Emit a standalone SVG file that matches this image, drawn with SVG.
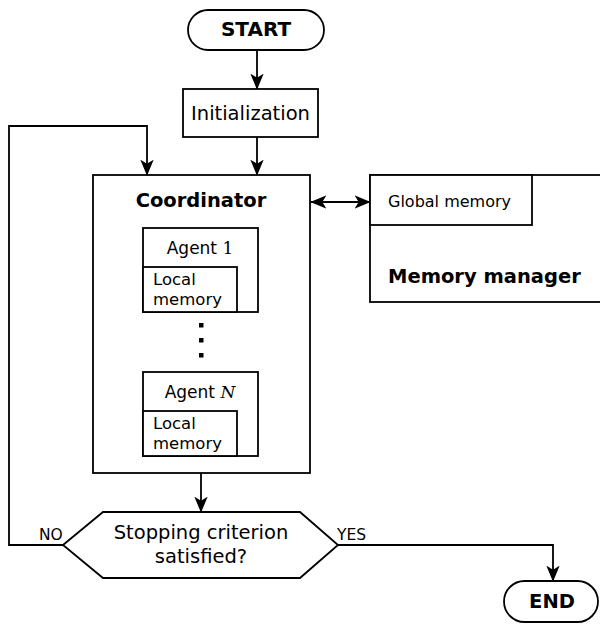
<svg xmlns="http://www.w3.org/2000/svg" width="600" height="625" viewBox="0 0 600 625">
  <style>
    .box { fill: #fff; stroke: #000; stroke-width: 1.8; }
    .line { fill: none; stroke: #000; stroke-width: 1.8; }
    .t { font-family: "DejaVu Sans", "Liberation Sans", sans-serif; fill: #000; }
    .b { font-weight: bold; }
    .m { font-family: "DejaVu Serif", "Liberation Serif", serif; }
  </style>
  <defs>
    <marker id="arr" viewBox="0 0 12 12" refX="11.5" refY="6" markerWidth="16" markerHeight="16" markerUnits="userSpaceOnUse" orient="auto-start-reverse">
      <path d="M0,1 L12,6 L0,11 L3,6 Z" fill="#000"/>
    </marker>
  </defs>

  <g id="connectors">
    <line class="line" x1="257" y1="51" x2="257" y2="89" marker-end="url(#arr)"/>
    <line class="line" x1="257" y1="137" x2="257" y2="175" marker-end="url(#arr)"/>
    <line class="line" x1="311" y1="202" x2="370" y2="202" marker-start="url(#arr)" marker-end="url(#arr)"/>
    <line class="line" x1="201" y1="473" x2="201" y2="512" marker-end="url(#arr)"/>
    <polyline class="line" points="63,545 9,545 9,126 147,126 147,175" marker-end="url(#arr)"/>
    <polyline class="line" points="338,545 553,545 553,581" marker-end="url(#arr)"/>
  </g>

  <g id="start">
    <rect class="box" x="188" y="10" width="136" height="40" rx="20"/>
    <text class="t b" x="256" y="36" font-size="20" text-anchor="middle">START</text>
  </g>

  <g id="init">
    <rect class="box" x="183" y="89" width="135" height="48"/>
    <text class="t" x="250.5" y="120" font-size="19.5" text-anchor="middle">Initialization</text>
  </g>

  <g id="coordinator">
    <rect class="box" x="93" y="175" width="217" height="298"/>
    <text class="t b" x="201" y="207" font-size="19.5" text-anchor="middle">Coordinator</text>
  </g>

  <g id="agent1">
    <rect class="box" x="143" y="228" width="115" height="84"/>
    <text class="t" x="200" y="254" font-size="17" text-anchor="middle">Agent <tspan class="m">1</tspan></text>
    <rect class="box" x="143" y="267" width="94" height="45"/>
    <text class="t" x="153" y="285" font-size="16.5">Local</text>
    <text class="t" x="153" y="305" font-size="16.5">memory</text>
  </g>

  <g id="ellipsis">
    <rect x="199" y="323" width="4.5" height="4.5"/>
    <rect x="199" y="338" width="4.5" height="4.5"/>
    <rect x="199" y="353" width="4.5" height="4.5"/>
  </g>

  <g id="agentN">
    <rect class="box" x="143" y="372" width="115" height="84"/>
    <text class="t" x="200" y="398" font-size="17" text-anchor="middle">Agent <tspan class="m" font-style="italic">N</tspan></text>
    <rect class="box" x="143" y="411" width="94" height="45"/>
    <text class="t" x="153" y="429" font-size="16.5">Local</text>
    <text class="t" x="153" y="449" font-size="16.5">memory</text>
  </g>

  <g id="memory-manager">
    <rect class="box" x="370" y="175" width="240" height="127"/>
    <rect class="box" x="370" y="175" width="162" height="50"/>
    <text class="t" x="388" y="207" font-size="16">Global memory</text>
    <text class="t b" x="388" y="283" font-size="19.5">Memory manager</text>
  </g>

  <g id="decision">
    <polygon class="box" points="63,545 103,512 300,512 338,545 300,578 103,578"/>
    <text class="t" x="201" y="539" font-size="19.5" text-anchor="middle">Stopping criterion</text>
    <text class="t" x="201" y="563" font-size="19.5" text-anchor="middle">satisfied?</text>
    <text class="t" x="39" y="540" font-size="15.5">NO</text>
    <text class="t" x="337" y="540" font-size="15.5">YES</text>
  </g>

  <g id="end">
    <rect class="box" x="504" y="581" width="94" height="41" rx="20.5"/>
    <text class="t b" x="552" y="608" font-size="19.5" text-anchor="middle">END</text>
  </g>
</svg>
